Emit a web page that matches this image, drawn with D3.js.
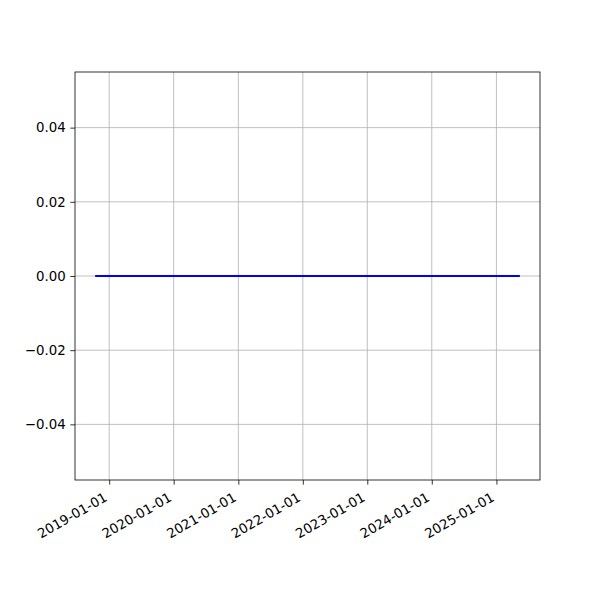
<!DOCTYPE html>
<html><head><meta charset="utf-8">
<script src="https://cdn.jsdelivr.net/npm/d3@7"></script>
<style>body{margin:0;background:#fff}</style>
</head><body>
<svg id="c" width="600" height="600"></svg>
<script>
const dates = ["2018-10-19", "2025-05-08"];
const values = [0, 0];
const xTicks = ["2019-01-01","2020-01-01","2021-01-01","2022-01-01","2023-01-01","2024-01-01","2025-01-01"];
const yTicks = [-0.04, -0.02, 0.00, 0.02, 0.04];

const parse = d3.utcParse("%Y-%m-%d");
const data = dates.map((d,i)=>({t:parse(d), v:values[i]}));
const L=75, R=540, T=72, B=480;
const svg = d3.select("#c");
const font = "DejaVu Sans, sans-serif";

const t0 = data[0].t, t1 = data[data.length-1].t;
const span = t1 - t0;
const x = d3.scaleUtc().domain([new Date(+t0 - span*0.05), new Date(+t1 + span*0.05)]).range([L, R]);
const y = d3.scaleLinear().domain([-0.055, 0.055]).range([B, T]);

svg.append("rect").attr("x",0).attr("y",0).attr("width",600).attr("height",600).attr("fill","#fff");

// grid
const xt = xTicks.map(parse);
svg.append("g").selectAll("line").data(xt).join("line")
  .attr("x1",d=>x(d)).attr("x2",d=>x(d)).attr("y1",T).attr("y2",B)
  .attr("stroke","#b0b0b0").attr("stroke-width",0.8);
svg.append("g").selectAll("line").data(yTicks).join("line")
  .attr("x1",L).attr("x2",R).attr("y1",d=>y(d)).attr("y2",d=>y(d))
  .attr("stroke","#b0b0b0").attr("stroke-width",0.8);

// line
svg.append("path").datum(data)
  .attr("d", d3.line().x(d=>x(d.t)).y(d=>y(d.v)))
  .attr("fill","none").attr("stroke","#0000ff").attr("stroke-width",2)
  .attr("stroke-linecap","square");

// axes
const xAxis = d3.axisBottom(x).tickValues(xt).tickSize(4.67).tickPadding(4.67).tickFormat(d3.utcFormat("%Y-%m-%d"));
const gx = svg.append("g").attr("transform",`translate(0,${B})`).call(xAxis);
gx.select(".domain").remove();
gx.selectAll(".tick line").attr("stroke","#000").attr("stroke-width",0.8);
gx.selectAll(".tick text")
  .attr("font-family",font).attr("font-size",13.33).attr("fill","#000")
  .attr("text-anchor","end").attr("dy",null).attr("y",null)
  .attr("transform","translate(-1.6,20) rotate(-30)");

const fmt = d => (d<0?"\u2212":"") + Math.abs(d).toFixed(2);
const yAxis = d3.axisLeft(y).tickValues(yTicks).tickSize(4.67).tickPadding(4.67).tickFormat(fmt);
const gy = svg.append("g").attr("transform",`translate(${L},0)`).call(yAxis);
gy.select(".domain").remove();
gy.selectAll(".tick line").attr("stroke","#000").attr("stroke-width",0.8);
gy.selectAll(".tick text").attr("font-family",font).attr("font-size",13.33).attr("fill","#000");

// spines
svg.append("rect").attr("x",L).attr("y",T).attr("width",R-L).attr("height",B-T)
  .attr("fill","none").attr("stroke","#000").attr("stroke-width",0.8);
</script>
</body></html>
